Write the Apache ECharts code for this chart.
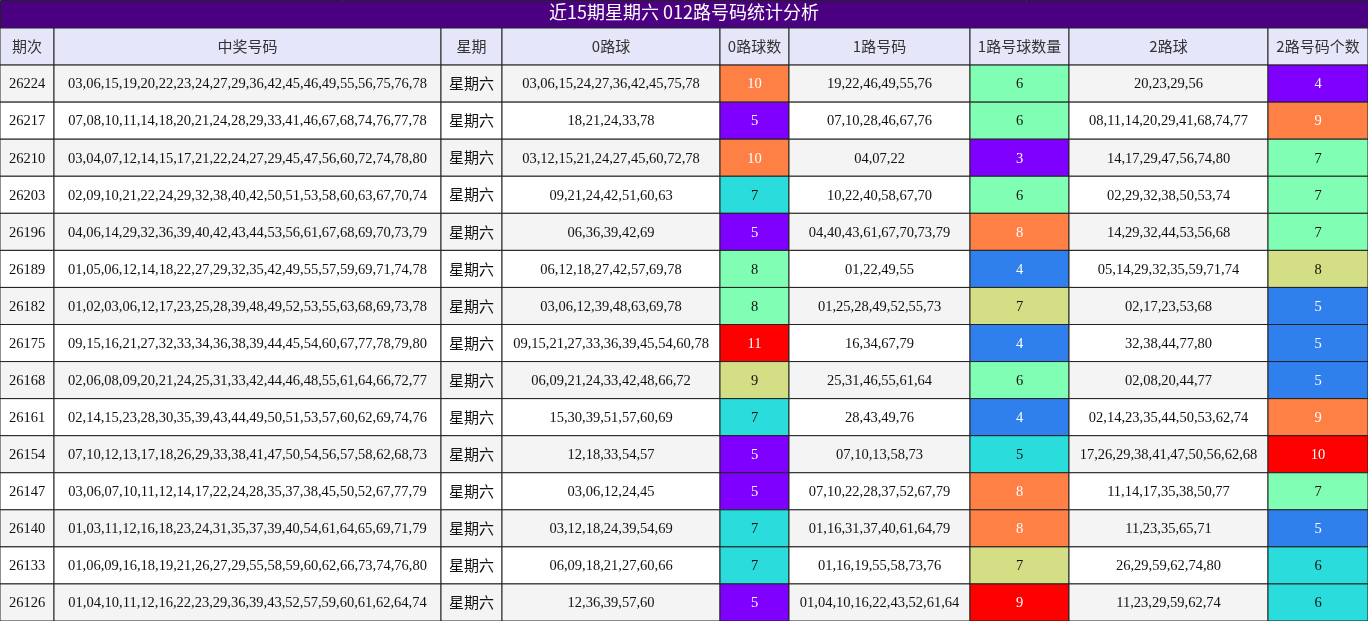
<!DOCTYPE html>
<html><head><meta charset="utf-8">
<script src="https://cdn.jsdelivr.net/npm/echarts@6/dist/echarts.min.js"></script>
<style>html,body{margin:0;padding:0;background:#fff}#c{width:1368px;height:621px}</style>
</head><body><div id="c"></div>
<script>
const title = '近15期星期六 012路号码统计分析';
const headers = ['期次','中奖号码','星期','0路球','0路球数','1路号码','1路号球数量','2路球','2路号码个数'];
const periods = ['26224','26217','26210','26203','26196','26189','26182','26175','26168','26161','26154','26147','26140','26133','26126'];
const winning = [
'03,06,15,19,20,22,23,24,27,29,36,42,45,46,49,55,56,75,76,78',
'07,08,10,11,14,18,20,21,24,28,29,33,41,46,67,68,74,76,77,78',
'03,04,07,12,14,15,17,21,22,24,27,29,45,47,56,60,72,74,78,80',
'02,09,10,21,22,24,29,32,38,40,42,50,51,53,58,60,63,67,70,74',
'04,06,14,29,32,36,39,40,42,43,44,53,56,61,67,68,69,70,73,79',
'01,05,06,12,14,18,22,27,29,32,35,42,49,55,57,59,69,71,74,78',
'01,02,03,06,12,17,23,25,28,39,48,49,52,53,55,63,68,69,73,78',
'09,15,16,21,27,32,33,34,36,38,39,44,45,54,60,67,77,78,79,80',
'02,06,08,09,20,21,24,25,31,33,42,44,46,48,55,61,64,66,72,77',
'02,14,15,23,28,30,35,39,43,44,49,50,51,53,57,60,62,69,74,76',
'07,10,12,13,17,18,26,29,33,38,41,47,50,54,56,57,58,62,68,73',
'03,06,07,10,11,12,14,17,22,24,28,35,37,38,45,50,52,67,77,79',
'01,03,11,12,16,18,23,24,31,35,37,39,40,54,61,64,65,69,71,79',
'01,06,09,16,18,19,21,26,27,29,55,58,59,60,62,66,73,74,76,80',
'01,04,10,11,12,16,22,23,29,36,39,43,52,57,59,60,61,62,64,74'];
const weekday = '星期六';
const road0 = ['03,06,15,24,27,36,42,45,75,78','18,21,24,33,78','03,12,15,21,24,27,45,60,72,78','09,21,24,42,51,60,63','06,36,39,42,69','06,12,18,27,42,57,69,78','03,06,12,39,48,63,69,78','09,15,21,27,33,36,39,45,54,60,78','06,09,21,24,33,42,48,66,72','15,30,39,51,57,60,69','12,18,33,54,57','03,06,12,24,45','03,12,18,24,39,54,69','06,09,18,21,27,60,66','12,36,39,57,60'];
const road0Count = [10,5,10,7,5,8,8,11,9,7,5,5,7,7,5];
const road1 = ['19,22,46,49,55,76','07,10,28,46,67,76','04,07,22','10,22,40,58,67,70','04,40,43,61,67,70,73,79','01,22,49,55','01,25,28,49,52,55,73','16,34,67,79','25,31,46,55,61,64','28,43,49,76','07,10,13,58,73','07,10,22,28,37,52,67,79','01,16,31,37,40,61,64,79','01,16,19,55,58,73,76','01,04,10,16,22,43,52,61,64'];
const road1Count = [6,6,3,6,8,4,7,4,6,4,5,8,8,7,9];
const road2 = ['20,23,29,56','08,11,14,20,29,41,68,74,77','14,17,29,47,56,74,80','02,29,32,38,50,53,74','14,29,32,44,53,56,68','05,14,29,32,35,59,71,74','02,17,23,53,68','32,38,44,77,80','02,08,20,44,77','02,14,23,35,44,50,53,62,74','17,26,29,38,41,47,50,56,62,68','11,14,17,35,38,50,77','11,23,35,65,71','26,29,59,62,74,80','11,23,29,59,62,74'];
const road2Count = [4,9,7,7,7,8,5,5,5,9,10,7,5,6,6];

// layout (not data)
const colEdges = [0,54,441,502,720,789,970,1069,1268,1368];
const palette = ['#8000FF','#2F80ED','#2ADCDC','#80FFB4','#D4DE84','#FF8045','#FF0000'];
const lightText = [true,true,false,false,false,true,true];

const columns = [periods, winning, periods.map(()=>weekday), road0, road0Count, road1, road1Count, road2, road2Count];
const countCols = {4:road0Count, 6:road1Count, 8:road2Count};
function colorIdx(arr, v){const mn=Math.min(...arr), mx=Math.max(...arr);return Math.round((v-mn)/(mx-mn)*6);}

const cells = [];
headers.forEach((h,c)=>cells.push({value:[c,0], text:h, header:true}));
periods.forEach((p,r)=>{
  columns.forEach((col,c)=>cells.push({value:[c,r+1], text:String(col[r])}));
});

function renderItem(params, api){
  const c = api.value(0), r = api.value(1);
  const item = cells[params.dataIndex];
  const p0 = api.coord([colEdges[c], r]);
  const p1 = api.coord([colEdges[c+1], r+1]);
  const x=p0[0], y=p0[1], w=p1[0]-p0[0], h=p1[1]-p0[1];
  let fill = item.header ? '#E6E6FA' : (r%2===1 ? '#F4F4F4' : '#FFFFFF');
  let tcol = item.header ? '#333' : '#111';
  const isCJK = item.header || c===2;
  if(!item.header && countCols[c]){
    const ci = colorIdx(countCols[c], countCols[c][r-1]);
    fill = palette[ci]; tcol = lightText[ci] ? '#fff' : '#111';
  }
  return {type:'group', children:[
    {type:'rect', shape:{x,y,width:w,height:h}, style:{fill, stroke:'#222', lineWidth:1}},
    {type:'text', style:{x:x+w/2, y:y+h/2+(isCJK?0:1), text:item.text, align:'center', verticalAlign:'middle', fill:tcol,
      font: isCJK ? '15px "Noto Sans CJK SC"' : '14.5px "Liberation Serif", "DejaVu Serif", serif'}}
  ]};
}

const chart = echarts.init(document.getElementById('c'));
chart.setOption({
  animation:false,
  graphic:[{type:'rect', left:0, top:0, shape:{width:1368,height:28}, style:{fill:'#4B0082', stroke:'#222'}},
           {type:'text', left:'center', top:3, style:{text:title, fill:'#fff', font:'18px "Noto Sans CJK SC"'}}],
  grid:{left:0, right:0, top:28, bottom:0},
  xAxis:{type:'value', min:0, max:1368, show:false},
  yAxis:{type:'value', min:0, max:16, inverse:true, show:false},
  series:[{type:'custom', renderItem, data:cells.map(d=>d.value), clip:false}]
});
</script></body></html>
